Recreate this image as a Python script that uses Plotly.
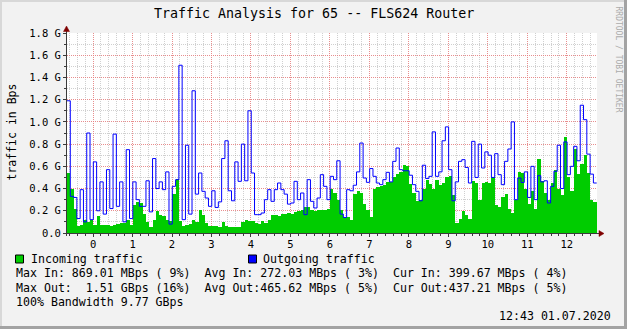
import plotly.graph_objects as go

# ---------------- data ----------------
TITLE = "Traffic Analysis for 65 -- FLS624 Router"
Y_LABEL = "traffic in Bps"
WATERMARK = "RRDTOOL / TOBI OETIKER"
TIMESTAMP = "12:43 01.07.2020"

START_HOUR = -0.66          # first sample (hours)
STEP_HOURS = 1 / 12         # 5 minute samples

X_TICKS = list(range(0, 13))
X_TICK_LABELS = [str(v) for v in X_TICKS]
Y_TICKS = [0.0, 0.2, 0.4, 0.6, 0.8, 1.0, 1.2, 1.4, 1.6, 1.8]
Y_TICK_LABELS = ["0.0", "0.2 G", "0.4 G", "0.6 G", "0.8 G", "1.0 G",
                 "1.2 G", "1.4 G", "1.6 G", "1.8 G"]

# Incoming traffic (GBps)
INCOMING = [
    0.54, 0.40, 0.22, 0.06, 0.07, 0.12, 0.10, 0.12, 0.07, 0.15,
    0.07, 0.07, 0.07, 0.06, 0.07, 0.08, 0.09, 0.09, 0.12, 0.07,
    0.25, 0.28, 0.27, 0.17, 0.10, 0.05, 0.12, 0.20, 0.16, 0.15,
    0.12, 0.11, 0.35, 0.49, 0.11, 0.06, 0.07, 0.08, 0.12, 0.10,
    0.21, 0.16, 0.09, 0.06, 0.06, 0.06, 0.05, 0.10, 0.06, 0.05,
    0.05, 0.05, 0.05, 0.10, 0.12, 0.11, 0.11, 0.09, 0.08, 0.11,
    0.09, 0.12, 0.16, 0.16, 0.15, 0.17, 0.17, 0.18, 0.17, 0.19,
    0.20, 0.21, 0.235, 0.23, 0.21, 0.20, 0.21, 0.21, 0.21, 0.22,
    0.40, 0.36, 0.30, 0.21, 0.14, 0.14, 0.12, 0.35, 0.38, 0.36,
    0.26, 0.21, 0.14, 0.40, 0.41, 0.42, 0.43, 0.46, 0.46, 0.50,
    0.53, 0.55, 0.61, 0.60, 0.44, 0.36, 0.29, 0.30, 0.40, 0.48,
    0.44, 0.40, 0.48, 0.435, 0.45, 0.50, 0.51, 0.34, 0.09, 0.13,
    0.20, 0.16, 0.13, 0.47, 0.45, 0.30, 0.45, 0.46, 0.45, 0.50,
    0.25, 0.23, 0.32, 0.35, 0.22, 0.18, 0.30, 0.55, 0.54, 0.40,
    0.26, 0.38, 0.22, 0.67, 0.47, 0.36, 0.30, 0.45, 0.57, 0.40,
    0.34, 0.86, 0.50, 0.375, 0.76, 0.53, 0.62, 0.70, 0.54, 0.30,
    0.28,
]

# Outgoing traffic (GBps)
OUTGOING = [
    1.19, 0.33, 0.32, 0.13, 0.39, 0.10, 0.90, 0.12, 0.64, 0.20,
    0.46, 0.17, 0.57, 0.22, 0.89, 0.24, 0.46, 0.10, 0.75, 0.13,
    0.46, 0.30, 0.24, 0.24, 0.47, 0.19, 0.67, 0.40, 0.46, 0.39,
    0.55, 0.08, 0.42, 0.48, 1.51, 0.12, 0.79, 0.17, 1.28, 0.35,
    0.54, 0.375, 0.315, 0.24, 0.38, 0.23, 0.28, 0.67, 0.83, 0.38,
    0.29, 0.64, 0.465, 0.80, 0.47, 1.10, 0.54, 0.165, 0.165, 0.18,
    0.30, 0.39, 0.285, 0.39, 0.45, 0.39, 0.35, 0.26, 0.27, 0.465,
    0.30, 0.36, 0.165, 0.48, 0.285, 0.225, 0.315, 0.525, 0.42, 0.30,
    0.51, 0.48, 0.65, 0.17, 0.14, 0.39, 0.38, 0.43, 0.55, 0.81,
    0.495, 0.456, 0.58, 0.51, 0.45, 0.435, 0.48, 0.546, 0.46, 0.645,
    0.765, 0.57, 0.56, 0.56, 0.52, 0.435, 0.375, 0.29, 0.61, 0.49,
    0.51, 0.91, 0.51, 0.55, 0.83, 0.955, 0.57, 0.29, 0.46, 0.645,
    0.66, 0.59, 0.45, 0.825, 0.50, 0.80, 0.585, 0.73, 0.70, 0.50,
    0.714, 0.525, 0.435, 0.645, 0.756, 1.00, 0.30, 0.495, 0.455, 0.55,
    0.32, 0.60, 0.30, 0.516, 0.46, 0.47, 0.27, 0.42, 0.555, 0.79,
    0.40, 0.82, 0.525, 0.60, 0.78, 0.65, 1.15, 1.02, 0.71, 0.53,
    0.45,
]

LEGEND_SERIES = ["Incoming traffic", "Outgoing traffic"]
SERIES_COLORS = ["#00CC00", "#0000FF"]
STATS_ROWS = [
    "Max In: 869.01 MBps ( 9%)  Avg In: 272.03 MBps ( 3%)  Cur In: 399.67 MBps ( 4%)",
    "Max Out:  1.51 GBps (16%)  Avg Out:465.62 MBps ( 5%)  Cur Out:437.21 MBps ( 5%)",
    "100% Bandwidth 9.77 GBps",
]

# ---------------- layout helpers ----------------
W, H = 627, 329
L, R, T, B = 67, 597, 33, 233          # plot area in pixels
MONO = "DejaVu Sans Mono"


def px(x):
    return (x - L) / (R - L)


def py(y):
    return (B - y) / (B - T)


def nb(s):
    return s.replace(" ", "\u00a0")


n = len(OUTGOING)
t_start = [START_HOUR + i * STEP_HOURS for i in range(n)]
t_mid = [t + STEP_HOURS / 2 for t in t_start]
t_end = START_HOUR + n * STEP_HOURS

fig = go.Figure()
fig.add_trace(go.Bar(
    x=t_mid, y=INCOMING, width=STEP_HOURS,
    marker=dict(color=SERIES_COLORS[0], line=dict(width=0)),
    hoverinfo="skip",
))
fig.add_trace(go.Scatter(
    x=t_start + [t_end], y=OUTGOING + [OUTGOING[-1]],
    mode="lines", line=dict(color=SERIES_COLORS[1], width=1, shape="hv"),
    hoverinfo="skip",
))

MAJOR_GRID = "rgba(240,120,120,0.75)"
MINOR_GRID = "rgba(150,150,150,0.45)"
AXIS = "#3a3a3a"

fig.update_layout(
    width=W, height=H,
    margin=dict(l=L, r=W - R, t=T, b=H - B, pad=0),
    paper_bgcolor="#F2F2F2",
    plot_bgcolor="#FFFFFF",
    showlegend=False,
    bargap=0,
    font=dict(family=MONO, color="#000000"),
    xaxis=dict(
        range=[START_HOUR, START_HOUR + (R - L) / 39.48],
        tickmode="array", tickvals=X_TICKS, ticktext=X_TICK_LABELS,
        showgrid=True, gridcolor=MAJOR_GRID, griddash="1px,1px", gridwidth=1,
        zeroline=False, showline=False,
        ticks="outside", ticklen=3, tickcolor=AXIS, tickwidth=1,
        ticklabelstandoff=-2,
        tickfont=dict(family=MONO, size=10.5, color="#000000"),
        minor=dict(dtick=0.2, tick0=0, showgrid=True, gridcolor=MINOR_GRID,
                   griddash="1px,1px", gridwidth=1, ticks="outside",
                   ticklen=2, tickcolor=AXIS),
        fixedrange=True,
    ),
    yaxis=dict(
        range=[0, 1.8],
        tickmode="array", tickvals=Y_TICKS, ticktext=Y_TICK_LABELS,
        showgrid=True, gridcolor=MAJOR_GRID, griddash="1px,1px", gridwidth=1,
        zeroline=False, showline=False,
        ticks="outside", ticklen=3, tickcolor=AXIS, tickwidth=1,
        tickfont=dict(family=MONO, size=10.5, color="#000000"),
        minor=dict(dtick=0.1, tick0=0, showgrid=True, gridcolor=MINOR_GRID,
                   griddash="1px,1px", gridwidth=1, ticks="outside",
                   ticklen=2, tickcolor=AXIS),
        fixedrange=True,
    ),
)

shapes = []
# frame shading
shapes.append(dict(type="rect", xref="paper", yref="paper",
                   x0=px(0), x1=px(W), y0=py(0), y1=py(2),
                   fillcolor="#D8D8D8", line=dict(width=0), layer="below"))
shapes.append(dict(type="rect", xref="paper", yref="paper",
                   x0=px(0), x1=px(2), y0=py(0), y1=py(H),
                   fillcolor="#D8D8D8", line=dict(width=0), layer="below"))
shapes.append(dict(type="rect", xref="paper", yref="paper",
                   x0=px(W - 3), x1=px(W), y0=py(0), y1=py(H),
                   fillcolor="#A3A3A3", line=dict(width=0)))
shapes.append(dict(type="rect", xref="paper", yref="paper",
                   x0=px(0), x1=px(W), y0=py(H - 3), y1=py(H),
                   fillcolor="#A3A3A3", line=dict(width=0)))
# axes
shapes.append(dict(type="line", xref="paper", yref="paper",
                   x0=px(L - 0.5), x1=px(L - 0.5), y0=py(B + 3), y1=py(30),
                   line=dict(color=AXIS, width=1)))
shapes.append(dict(type="line", xref="paper", yref="paper",
                   x0=px(L - 4), x1=px(R + 3), y0=py(B + 0.5), y1=py(B + 0.5),
                   line=dict(color=AXIS, width=1)))
# arrows
shapes.append(dict(type="path", xref="paper", yref="paper",
                   path=f"M {px(L - 3.5)} {py(31.5)} L {px(L + 2.5)} {py(31.5)} L {px(L - 0.5)} {py(26)} Z",
                   fillcolor="#7F0000", line=dict(color="#7F0000", width=0.5)))
shapes.append(dict(type="path", xref="paper", yref="paper",
                   path=f"M {px(R + 2)} {py(B - 2.5)} L {px(R + 2)} {py(B + 3.5)} L {px(R + 7)} {py(B + 0.5)} Z",
                   fillcolor="#7F0000", line=dict(color="#7F0000", width=0.5)))
# legend squares
shapes.append(dict(type="rect", xref="paper", yref="paper",
                   x0=px(15.5), x1=px(23.5), y0=py(255), y1=py(263),
                   fillcolor=SERIES_COLORS[0], line=dict(color="#000000", width=1)))
shapes.append(dict(type="rect", xref="paper", yref="paper",
                   x0=px(248.5), x1=px(256.5), y0=py(255), y1=py(263),
                   fillcolor=SERIES_COLORS[1], line=dict(color="#000000", width=1)))
fig.update_layout(shapes=shapes)


def ann(text, x, y, size, xanchor="left", color="#000000", angle=0):
    return dict(text=nb(text), x=px(x), y=py(y), xref="paper", yref="paper",
                xanchor=xanchor, yanchor="middle", showarrow=False,
                textangle=angle, borderpad=0, borderwidth=0,
                font=dict(family=MONO, size=size, color=color))


annotations = [
    ann(TITLE, 313.5, 13.5, 13.3, xanchor="center"),
    ann(Y_LABEL, 11, 132.5, 11.5, xanchor="center", angle=-90),
    ann(WATERMARK, 618.5, 59, 8, xanchor="center", color="#ABABAB", angle=90),
    ann(LEGEND_SERIES[0], 30.5, 259, 11.6),
    ann(LEGEND_SERIES[1], 262.5, 259, 11.6),
    ann(STATS_ROWS[0], 15.5, 273, 11.6),
    ann(STATS_ROWS[1], 15.5, 287.5, 11.6),
    ann(STATS_ROWS[2], 15.5, 301.5, 11.6),
    ann(TIMESTAMP, 610.5, 315.5, 11.6, xanchor="right"),
]
fig.update_layout(annotations=annotations)

fig.write_html("out.html", config={"displayModeBar": False, "staticPlot": True})
